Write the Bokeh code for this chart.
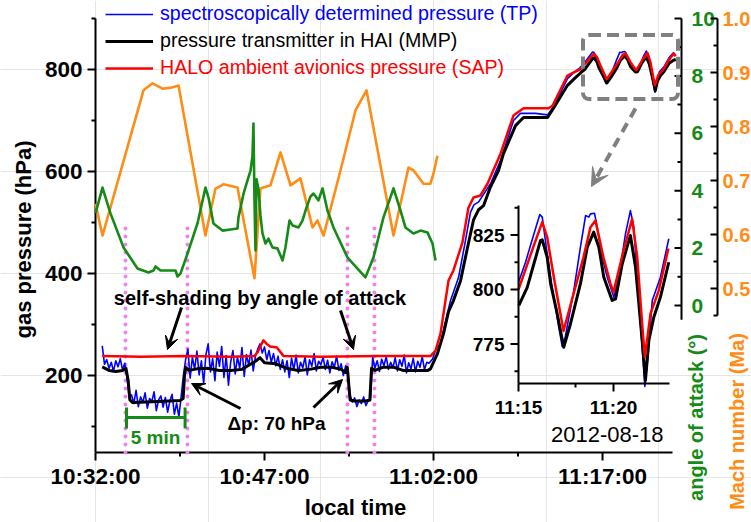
import math
from bokeh.plotting import figure
from bokeh.models import (Range1d, Legend, LegendItem, Label, Arrow, VeeHead, BoxAnnotation)
from bokeh.core.properties import value
from bokeh.embed import file_html
from bokeh.resources import INLINE

# ---------------- data (time in minutes after 10:32:00 local time) ----------------
time_ticks = [0, 15, 30, 45]
time_tick_labels = ["10:32:00", "10:47:00", "11:02:00", "11:17:00"]
time_minor_ticks = [7.5, 22.5, 37.5]
pressure_ticks = [200, 400, 600, 800]
pressure_minor_ticks = [100, 300, 500, 700, 900]
aoa_ticks = [0, 2, 4, 6, 8, 10]
aoa_tick_labels = ["0", "2", "4", "6", "8", "10"]
aoa_minor_ticks = [1, 3, 5, 7, 9]
mach_ticks = [0.5, 0.6, 0.7, 0.8, 0.9, 1.0]
mach_tick_labels = ["0.5", "0.6", "0.7", "0.8", "0.9", "1.0"]
mach_minor_ticks = [0.45, 0.55, 0.65, 0.75, 0.85, 0.95]
inset_p_ticks = [775, 800, 825]
inset_p_labels = ["775", "800", "825"]
inset_p_minor = [762.5, 787.5, 812.5, 837.5]
inset_t_ticks = [43, 48]
inset_t_labels = ["11:15", "11:20"]
inset_t_minor = [46]
shading_times = [2.66, 8.16, 22.36, 24.76]

tp_time = [0.6, 0.8, 1.0, 1.2, 1.4, 1.6, 1.8, 2.0, 2.2, 2.4, 2.6, 2.8, 3.0, 3.2, 3.4, 3.6, 3.8,
           4.0, 4.2, 4.4, 4.6, 4.8, 5.0, 5.2, 5.4, 5.6, 5.8, 6.0, 6.2, 6.4, 6.6, 6.8, 7.0, 7.2,
           7.4, 7.6, 7.8, 8.0, 8.2, 8.4, 8.6, 8.8, 9.0, 9.2, 9.4, 9.6, 9.8, 10.0, 10.2, 10.4,
           10.6, 10.8, 11.0, 11.2, 11.4, 11.6, 11.8, 12.0, 12.2, 12.4, 12.6, 12.8, 13.0, 13.2,
           13.4, 13.6, 13.8, 14.0, 14.2, 14.4, 14.6, 14.8, 15.0, 15.2, 15.4, 15.6, 15.8, 16.0,
           16.2, 16.4, 16.6, 16.8, 17.0, 17.2, 17.4, 17.6, 17.8, 18.0, 18.2, 18.4, 18.6, 18.8,
           19.0, 19.2, 19.4, 19.6, 19.8, 20.0, 20.2, 20.4, 20.6, 20.8, 21.0, 21.2, 21.4, 21.6,
           21.8, 22.0, 22.2, 22.4, 22.6, 22.8, 23.0, 23.2, 23.4, 23.6, 23.8, 24.0, 24.2, 24.4,
           24.6, 24.8, 25.0, 25.2, 25.4, 25.6, 25.8, 26.0, 26.2, 26.4, 26.6, 26.8, 27.0, 27.2,
           27.4, 27.6, 27.8, 28.0, 28.2, 28.4, 28.6, 28.8, 29.0, 29.2, 29.4, 29.6,
           29.9, 30.2, 30.62, 31.0, 31.51, 32.22, 32.84, 33.28, 33.6, 33.99, 35.06, 35.95, 37.1,
           37.72, 39.05, 40.12, 40.65, 41.89, 42.5,
           43.0, 43.37, 43.81, 44.12, 44.25, 44.51, 44.77, 45.12, 45.3, 45.47, 45.91, 46.26,
           46.53, 46.7, 46.79, 47.0, 47.14, 47.41, 47.67, 48.02, 48.28, 48.63, 48.89, 49.07,
           49.33, 49.51, 49.65, 49.81, 50.04, 50.47, 50.91, 51.3, 51.5]
tp = [258, 222, 231, 214, 226, 208, 229, 217, 233, 211, 224, 195, 156, 162, 145, 171, 139,
      158, 147, 166, 136, 155, 149, 168, 131, 152, 160, 138, 157, 128, 150, 163, 124, 146,
      119, 158, 200, 231, 252, 195, 236, 212, 248, 201, 229, 184, 241, 262, 207, 233,
      190, 246, 218, 257, 196, 239, 181, 227, 249, 203, 236, 214, 255, 198,
      241, 220, 250, 209, 238, 252, 262, 244, 256, 231, 249, 226, 243, 219,
      238, 212, 231, 207, 229, 196, 234, 211, 240, 205, 226, 215, 237, 201,
      231, 218, 243, 209, 228, 221, 236, 212, 230, 205, 227, 216, 238, 210,
      223, 200, 219, 208, 160, 148, 156, 139, 152, 145, 158, 141, 150, 152,
      236, 214, 229, 208, 232, 219, 237, 212, 226, 215, 235, 209, 231, 218,
      240, 205, 225, 213, 234, 207, 228, 216, 237, 211, 226, 224,
      232, 250, 263, 300, 347, 392, 465, 520, 535, 540, 576, 622, 700,
      714, 714, 711, 727, 782, 795,
      803.3, 812.5, 825.5, 834.4, 833.2, 816.4, 801.0, 782.7, 773.9, 778.6, 799.5, 819.4,
      833.9, 833.2, 834.7, 835.0, 828.6, 814.8, 805.6, 796.5, 805.6, 825.5, 836.2, 828.6,
      795.0, 773.5, 755.5, 769.0, 795.0, 805.6, 823.3, 833, 828]

mmp_time = [0.6, 1.2, 1.8, 2.4, 2.7, 2.9, 3.05, 3.3, 4.5, 5.5, 6.5, 7.5, 7.78, 7.9, 8.0, 8.3,
            9.0, 10.0, 11.0, 12.0, 13.0, 13.6, 14.2, 14.6, 15.0, 16.0, 17.0, 18.0, 19.0, 20.0,
            21.0, 21.8, 22.2, 22.35, 22.5, 22.6, 23.0, 24.0, 24.35, 24.5, 24.8, 25.5, 26.5,
            27.3, 28.5, 29.5, 29.73, 30.35, 30.89, 31.33, 31.77, 32.4, 33.02, 33.55, 34.0,
            34.44, 35.06, 35.77, 36.21, 37.28, 37.99, 40.12, 40.65, 41.89, 42.5,
            43.02, 43.46, 43.81, 44.16, 44.25, 44.51, 44.69, 45.04, 45.38, 45.74, 46.26, 46.62,
            46.96, 47.23, 47.49, 47.93, 48.11, 48.46, 48.89, 49.16, 49.51, 49.68, 49.86, 50.12,
            50.47, 50.91, 51.3, 51.5]
mmp = [217, 210, 208, 210, 214, 190, 152, 147, 148, 149, 150, 151, 155, 200, 216, 210,
       213, 214, 210, 210, 212, 220, 228, 235, 225, 223, 214, 210, 212, 216,
       216, 212, 206, 216, 176, 152, 150, 150, 152, 214, 210, 216, 216,
       210, 210, 210, 213, 243, 282, 325, 347, 386, 451, 505, 525,
       533, 570, 602, 635, 690, 706, 706, 724, 769, 782,
       792.7, 801.0, 811.8, 822.5, 822.8, 814.8, 802.7, 788.8, 773.5, 784.4, 802.7, 819.4,
       826.3, 819.4, 805.6, 795.0, 795.7, 811.8, 824.8, 810.2, 776.6, 758.3, 776.6, 787.3,
       796.5, 812.5, 818, 820]

sap_time = [0.6, 4.0, 8.0, 12.0, 14.1, 14.4, 14.9, 15.2, 15.5, 16.1, 16.7, 20.0, 25.0, 29.73,
            30.18, 30.62, 31.33, 31.77, 32.57, 33.1, 33.55, 34.17, 34.79, 35.95, 37.1, 37.99,
            40.21, 40.56, 41.89, 42.5,
            43.0, 43.84, 44.25, 44.51, 44.86, 45.37, 46.42, 46.79, 47.05, 47.47, 47.84, 48.0,
            48.53, 48.98, 49.25, 49.51, 49.65, 49.95, 50.38, 50.89, 51.3, 51.5]
sap = [238, 237, 238, 237, 238, 246, 269, 262, 257, 255, 238, 237, 238, 238,
       249, 282, 386, 406, 461, 529, 549, 553, 576, 635, 710, 724,
       724, 729, 788, 795,
       800.0, 821.0, 830.9, 824.0, 805.6, 781.0, 814.8, 828.6, 831.6, 814.8, 802.7, 798.8,
       817.9, 832.4, 814.8, 784.0, 769.0, 789.0, 799.5, 818.8, 831, 826]

aoa_time = [0.0, 0.62, 1.33, 2.49, 3.73, 4.70, 5.15, 5.33, 5.77, 6.39, 7.10, 7.28, 7.54, 8.17,
            9.05, 9.76, 10.03, 10.47, 11.27, 11.98, 12.60, 12.69, 13.14, 13.49, 13.76, 13.93,
            14.02, 14.11, 14.20, 14.29, 14.47, 14.64, 14.82, 15.09, 15.35, 15.71, 16.15, 16.42,
            16.60, 16.86, 17.22, 17.49, 18.02, 18.37, 18.64, 19.08, 19.35, 19.79, 20.15, 20.59,
            21.12, 22.37, 23.96, 24.67, 25.56, 26.45, 27.07, 27.51, 28.22, 28.84, 29.47, 29.91,
            30.18]
aoa = [3.21, 4.11, 3.21, 2.02, 1.29, 1.15, 1.22, 1.36, 1.22, 1.22, 1.22, 1.01, 1.11, 1.81,
       2.86, 4.11, 3.76, 2.86, 2.61, 2.65, 2.68, 3.07, 3.90, 4.36, 4.70, 5.20,
       6.34, 3.66, 1.92, 4.40, 4.05, 3.14, 2.51, 2.16, 2.33, 2.02, 1.99, 1.74,
       1.57, 2.02, 2.96, 2.79, 2.72, 2.96, 3.31, 3.80, 3.90, 3.66, 4.08, 3.31,
       2.72, 1.67, 0.98, 1.67, 3.07, 4.08, 3.31, 2.72, 2.51, 2.61, 2.54, 2.16,
       1.57]

mach_time = [0.0, 0.62, 4.26, 5.06, 5.95, 6.75, 7.37, 9.76, 10.65, 11.36, 12.60, 14.11, 14.64,
             15.53, 16.42, 17.31, 18.19, 19.26, 19.70, 20.24, 21.75, 23.08, 24.05, 26.45, 27.78,
             28.22, 29.11, 29.73, 30.0, 30.35]
mach = [0.657, 0.598, 0.867, 0.880, 0.870, 0.872, 0.876, 0.598, 0.685, 0.693, 0.687, 0.519,
        0.685, 0.691, 0.752, 0.691, 0.704, 0.613, 0.626, 0.598, 0.719, 0.830, 0.867, 0.598,
        0.724, 0.719, 0.694, 0.694, 0.713, 0.746]

# ---------------- layout / calibration (pixels) ----------------
W, H = 751, 522
AX_L, AX_B, AX_R = 95, 452, 672             # main axes: left x, bottom y, right end of x axis
PX_MIN = 11.267                             # px per minute (main)
P_REF, P_REF_PX, PX_HPA = 800, 69, 0.51     # main pressure calibration
A_TOP, A_TOP_PX, PX_A = 10, 18, 28.7        # angle of attack calibration
M_TOP, M_TOP_PX, PX_M = 1.0, 18, 540.0      # Mach calibration
AX_A, AX_M = 681, 717                       # x of the two right-hand axes
IN_L, IN_R, IN_B, IN_T = 518, 669, 383, 205 # inset axes (px)
IN_PX_MIN, IN_PX_HPA = 19.0, 2.18
IN_T0, IN_P_REF, IN_P_REF_PX = 43.0, 800, 289

BLUE, RED, BLACK = "#0000ff", "#ff0000", "#000000"
GREEN, ORANGE, PINK, GRAY = "#168a16", "#ff8c14", "#ee82ee", "#808080"
FONT = "Liberation Sans"


def tx(px):
    return (px - AX_L) / PX_MIN


def py(y):
    return P_REF - (y - P_REF_PX) / PX_HPA


def ay(y):
    return A_TOP - (y - A_TOP_PX) / PX_A


def my(y):
    return M_TOP - (y - M_TOP_PX) / PX_M


def itx(px):
    return IN_T0 + (px - IN_L) / IN_PX_MIN


def ipy(y):
    return IN_P_REF - (y - IN_P_REF_PX) / IN_PX_HPA


p = figure(width=W, height=H, x_range=Range1d(tx(0), tx(W)), y_range=Range1d(py(H), py(0)),
           output_backend="svg", toolbar_location=None, title=None,
           x_axis_location=None, y_axis_location=None, min_border=0)
p.outline_line_color = None
p.background_fill_color = "white"
p.border_fill_color = "white"
p.extra_y_ranges = {"aoa": Range1d(ay(H), ay(0)), "mach": Range1d(my(H), my(0)),
                    "iy": Range1d(ipy(H), ipy(0))}
p.extra_x_ranges = {"ix": Range1d(itx(0), itx(W))}

LW = 2
tick_font = dict(text_font=value(FONT), text_font_style="bold", text_font_size="22.5px")

# ---- left (pressure) axis ----
x_l, yb = tx(AX_L), py(AX_B)
p.segment(x0=[x_l], y0=[yb], x1=[x_l], y1=[pressure_minor_ticks[-1]], line_color=BLACK, line_width=LW)
p.segment(x0=[tx(AX_L - 8)] * len(pressure_ticks), y0=pressure_ticks, x1=[x_l] * len(pressure_ticks),
          y1=pressure_ticks, line_color=BLACK, line_width=LW)
p.segment(x0=[tx(AX_L - 4)] * len(pressure_minor_ticks), y0=pressure_minor_ticks,
          x1=[x_l] * len(pressure_minor_ticks), y1=pressure_minor_ticks, line_color=BLACK, line_width=LW)
p.text(x=[tx(AX_L - 13)] * len(pressure_ticks), y=pressure_ticks, text=[str(v) for v in pressure_ticks],
       text_align="right", text_baseline="middle", text_color=BLACK, **tick_font)
p.add_layout(Label(x=tx(23), y=py(239), text="gas pressure (hPa)", angle=math.pi / 2,
                   text_font=FONT, text_font_style="bold", text_font_size="22px",
                   text_align="center", text_baseline="middle", text_color=BLACK))

# ---- bottom (time) axis ----
p.segment(x0=[x_l], y0=[yb], x1=[tx(AX_R)], y1=[yb], line_color=BLACK, line_width=LW)
p.segment(x0=time_ticks, y0=[yb] * 4, x1=time_ticks, y1=[py(AX_B + 8)] * 4, line_color=BLACK, line_width=LW)
p.segment(x0=time_minor_ticks, y0=[yb] * 3, x1=time_minor_ticks, y1=[py(AX_B + 4)] * 3,
          line_color=BLACK, line_width=LW)
p.text(x=time_ticks, y=[py(AX_B + 24)] * 4, text=time_tick_labels, text_align="center",
       text_baseline="middle", text_color=BLACK, **tick_font)
p.add_layout(Label(x=tx(355), y=py(507), text="local time", text_font=FONT,
                   text_font_style="bold", text_font_size="22px", text_align="center",
                   text_baseline="middle", text_color=BLACK))

# ---- right axes: angle of attack and Mach number ----
for (xa, rng, ticks, minor, labels, lo, col, off, fs) in [
        (AX_A, "aoa", aoa_ticks, aoa_minor_ticks, aoa_tick_labels, -0.5, GREEN, 10, "21px"),
        (AX_M, "mach", mach_ticks, mach_minor_ticks, mach_tick_labels, 0.45, ORANGE, 5, "20px")]:
    p.segment(x0=[tx(xa)], y0=[lo], x1=[tx(xa)], y1=[ticks[-1]], y_range_name=rng,
              line_color=BLACK, line_width=LW)
    p.segment(x0=[tx(xa - 7)] * len(ticks), y0=ticks, x1=[tx(xa)] * len(ticks), y1=ticks,
              y_range_name=rng, line_color=BLACK, line_width=LW)
    p.segment(x0=[tx(xa - 4)] * len(minor), y0=minor, x1=[tx(xa)] * len(minor), y1=minor,
              y_range_name=rng, line_color=BLACK, line_width=LW)
    p.text(x=[tx(xa + off)] * len(ticks), y=ticks, text=labels, y_range_name=rng,
           text_align="left", text_baseline="middle", text_color=col,
           text_font=value(FONT), text_font_style="bold", text_font_size=fs)

p.add_layout(Label(x=tx(695), y=py(417), text="angle of attack (\u00b0)", angle=math.pi / 2,
                   text_font=FONT, text_font_style="bold", text_font_size="20px",
                   text_align="center", text_baseline="middle", text_color=GREEN))
p.add_layout(Label(x=tx(736), y=py(421), text="Mach number (Ma)", angle=math.pi / 2,
                   text_font=FONT, text_font_style="bold", text_font_size="20px",
                   text_align="center", text_baseline="middle", text_color=ORANGE))

# ---- self-shading markers (dotted pink) ----
p.segment(x0=shading_times, x1=shading_times, y0=[yb] * len(shading_times),
          y1=[500] * len(shading_times), line_color=PINK, line_width=4,
          line_dash="0 8", line_cap="round")

# ---- main curves ----
p.line(mach_time, mach, y_range_name="mach", line_color=ORANGE, line_width=2.6, line_join="round")
p.line(aoa_time, aoa, y_range_name="aoa", line_color=GREEN, line_width=2.6, line_join="round")
r_tp = p.line(tp_time, tp, line_color=BLUE, line_width=1.6, line_join="round")
r_mmp = p.line(mmp_time, mmp, line_color=BLACK, line_width=3, line_join="round")
r_sap = p.line(sap_time, sap, line_color=RED, line_width=2.5, line_join="round")

# ---- legends (one per entry so that each text takes its line colour) ----
for i, (lab, r, col) in enumerate([
        ("spectroscopically determined pressure (TP)", r_tp, BLUE),
        ("pressure transmitter in HAI (MMP)", r_mmp, BLACK),
        ("HALO ambient avionics pressure (SAP)", r_sap, RED)]):
    cy = 14 + 27 * i
    lg = Legend(items=[LegendItem(label=lab, renderers=[r])],
                location=(105, (H - cy) - 11),
                label_text_color=col, label_text_font=FONT, label_text_font_size="19.6px",
                glyph_width=48, glyph_height=22, label_height=22, label_standoff=7,
                padding=0, spacing=0, margin=0, border_line_color=None,
                background_fill_alpha=0)
    p.add_layout(lg)

# ---- inset (same data, zoomed) ----
t_end = itx(IN_R)
idx_tp = [i for i, t in enumerate(tp_time) if IN_T0 <= t <= t_end]
idx_mmp = [i for i, t in enumerate(mmp_time) if IN_T0 <= t <= t_end]
idx_sap = [i for i, t in enumerate(sap_time) if IN_T0 <= t <= t_end]
ik = dict(x_range_name="ix", y_range_name="iy", line_join="round")
p.line([tp_time[i] for i in idx_tp], [tp[i] for i in idx_tp], line_color=BLUE, line_width=1.6, **ik)
p.line([mmp_time[i] for i in idx_mmp], [mmp[i] for i in idx_mmp], line_color=BLACK, line_width=3, **ik)
p.line([sap_time[i] for i in idx_sap], [sap[i] for i in idx_sap], line_color=RED, line_width=2.5, **ik)

x0, x1 = itx(IN_L), itx(IN_R)
y0, y1 = ipy(IN_B), ipy(IN_T)
ax_kw = dict(x_range_name="ix", y_range_name="iy", line_color=BLACK, line_width=LW)
p.segment(x0=[x0, x0], y0=[y0, y0], x1=[x0, x1], y1=[y1, y0], **ax_kw)
p.segment(x0=[itx(IN_L - 8)] * 3, y0=inset_p_ticks, x1=[x0] * 3, y1=inset_p_ticks, **ax_kw)
p.segment(x0=[itx(IN_L - 4)] * 4, y0=inset_p_minor, x1=[x0] * 4, y1=inset_p_minor, **ax_kw)
p.segment(x0=inset_t_ticks, y0=[ipy(IN_B + 8)] * 2, x1=inset_t_ticks, y1=[y0] * 2, **ax_kw)
p.segment(x0=inset_t_minor, y0=[ipy(IN_B + 4)], x1=inset_t_minor, y1=[y0], **ax_kw)
ifont = dict(text_font=value(FONT), text_font_style="bold", text_font_size="19px", text_color=BLACK)
p.text(x=[itx(IN_L - 14)] * 3, y=inset_p_ticks, text=inset_p_labels, x_range_name="ix",
       y_range_name="iy", text_align="right", text_baseline="middle", **ifont)
p.text(x=inset_t_ticks, y=[ipy(IN_B + 24)] * 2, text=inset_t_labels, x_range_name="ix",
       y_range_name="iy", text_align="center", text_baseline="middle", **ifont)
p.add_layout(Label(x=tx(663), y=py(434), text="2012-08-18", text_align="right",
                   text_baseline="middle", text_font=FONT, text_font_size="22px",
                   text_color=BLACK))

# ---- zoom box and dashed arrow ----
p.add_layout(BoxAnnotation(left=tx(582.5), right=tx(677.5), top=py(34.5), bottom=py(98.5),
                           fill_color=None, fill_alpha=0, line_color=GRAY, line_alpha=1.0,
                           line_width=4, line_dash="12 6", border_radius=6))
p.add_layout(Arrow(x_start=tx(635), y_start=py(108), x_end=tx(591), y_end=py(186),
                   line_color=GRAY, line_width=4, line_dash="10 7",
                   end=VeeHead(size=18, fill_color=GRAY, line_color=GRAY, line_width=1)))

# ---- annotations ----
txt = dict(text_font=FONT, text_font_style="bold", text_align="center", text_baseline="middle")
p.add_layout(Label(x=tx(259.5), y=py(297), text="self-shading by angle of attack",
                   text_color=BLACK, text_font_size="20px", **txt))
p.add_layout(Label(x=tx(276), y=py(423), text="\u0394p: 70 hPa", text_color=BLACK,
                   text_font_size="19px", **txt))
p.add_layout(Label(x=tx(155), y=py(437), text="5 min", text_color=GREEN,
                   text_font_size="19px", **txt))

for (xs, ys, xe, ye) in [(181, 307, 167, 349), (340, 310, 353, 349),
                         (240, 408, 191, 383), (313, 407, 342, 379)]:
    p.add_layout(Arrow(x_start=tx(xs), y_start=py(ys), x_end=tx(xe), y_end=py(ye),
                       line_color=BLACK, line_width=3,
                       end=VeeHead(size=13, fill_color=BLACK, line_color=BLACK, line_width=1)))

# 5 min scale bar
b0 = tx(126)
b1, by, c0, c1 = b0 + 5.2, py(417), py(428), py(407)
p.segment(x0=[b0, b0, b1], y0=[by, c0, c0], x1=[b1, b0, b1], y1=[by, c1, c1],
          line_color=GREEN, line_width=3)

open("out.html", "w").write(file_html(p, INLINE))
